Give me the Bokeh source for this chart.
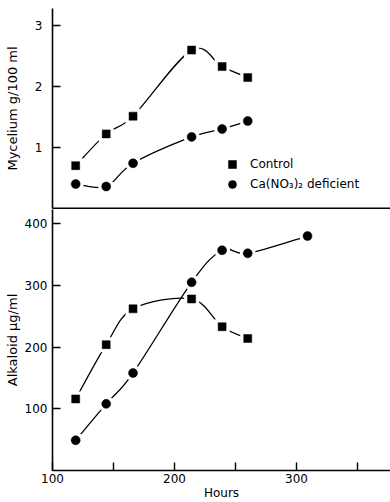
import numpy as np
from bokeh.plotting import figure
from bokeh.models import Range1d, FixedTicker, Legend, LegendItem
from bokeh.layouts import column
from bokeh.embed import file_html
from bokeh.resources import INLINE

# ---- data ----
hours = [119, 144, 166, 214, 239, 260]
hours_alk_def = [119, 144, 166, 214, 239, 260, 309]
myc_control = [0.70, 1.22, 1.51, 2.59, 2.32, 2.14]
myc_deficient = [0.40, 0.36, 0.74, 1.17, 1.30, 1.43]
alk_control = [116, 204, 262, 278, 233, 214]
alk_deficient = [49, 108, 158, 305, 357, 352, 380]

x_ticks = [100, 200, 300]
x_minor_ticks = [150, 250, 350]
myc_ticks = [1, 2, 3]
alk_ticks = [100, 200, 300, 400]

labels = ["Control", "Ca(NO\u2083)\u2082 deficient"]

FONT = "DejaVu Sans"
INK = "black"


def catmull_rom(xs, ys):
    x = np.asarray(xs, float)
    y = np.asarray(ys, float)
    xp = np.concatenate([[x[0]], x, [x[-1]]])
    yp = np.concatenate([[y[0]], y, [y[-1]]])
    return dict(
        x0=x[:-1], y0=y[:-1], x1=x[1:], y1=y[1:],
        cx0=x[:-1] + (xp[2:-1] - xp[:-3]) / 6.0,
        cy0=y[:-1] + (yp[2:-1] - yp[:-3]) / 6.0,
        cx1=x[1:] - (xp[3:] - xp[1:-2]) / 6.0,
        cy1=y[1:] - (yp[3:] - yp[1:-2]) / 6.0,
    )


def style(p):
    p.grid.visible = False
    p.outline_line_color = None
    p.background_fill_color = "white"
    p.border_fill_color = "white"
    for ax in p.axis:
        ax.axis_line_color = INK
        ax.axis_line_width = 1.6
        ax.major_tick_line_color = INK
        ax.major_tick_line_width = 1.4
        ax.minor_tick_line_color = INK
        ax.minor_tick_line_width = 1.4
        ax.major_tick_in = 8
        ax.major_tick_out = 0
        ax.minor_tick_in = 0
        ax.minor_tick_out = 0
        ax.major_label_text_font = FONT
        ax.major_label_text_font_size = "12px"
        ax.major_label_text_color = INK
        ax.axis_label_text_font = FONT
        ax.axis_label_text_font_size = "13px"
        ax.axis_label_text_font_style = "normal"
        ax.axis_label_text_color = INK


def draw_series(p, xs, ys, marker, size):
    p.bezier(**catmull_rom(xs, ys), line_color=INK, line_width=1.3)
    p.scatter(xs, ys, marker=marker, size=size + 7, fill_color="white",
              line_color=None)
    return p.scatter(xs, ys, marker=marker, size=size, fill_color=INK,
                     line_color=INK, line_width=0.5)


x_range = Range1d(100, 377)

# ---- top panel: mycelium ----
p1 = figure(width=390, height=209, x_range=x_range, y_range=Range1d(0, 3.27),
            output_backend="svg", toolbar_location=None,
            min_border_left=52, min_border_right=0, min_border_top=8,
            min_border_bottom=1)
style(p1)
p1.yaxis.ticker = FixedTicker(ticks=myc_ticks)
p1.yaxis.axis_label = "Mycelium g/100 ml"
p1.yaxis.major_label_standoff = 10
p1.yaxis.axis_label_standoff = 12
p1.xaxis.ticker = FixedTicker(ticks=[])
p1.xaxis.axis_line_width = 2
p1.xaxis.major_tick_in = 0
p1.xaxis.major_label_standoff = 0
p1.xaxis.major_label_text_font_size = "0px"

r_c = draw_series(p1, hours, myc_control, "square", 8)
r_d = draw_series(p1, hours, myc_deficient, "circle", 9)

legend = Legend(items=[LegendItem(label=labels[0], renderers=[r_c]),
                       LegendItem(label=labels[1], renderers=[r_d])],
                location=(170, 14), orientation="vertical",
                glyph_width=20, glyph_height=20, label_height=20,
                label_standoff=8, spacing=0, padding=0, margin=0,
                background_fill_alpha=0, border_line_color=None,
                label_text_font=FONT, label_text_font_size="12px",
                label_text_color=INK)
p1.add_layout(legend, "center")

# ---- bottom panel: alkaloid ----
p2 = figure(width=390, height=293, x_range=x_range, y_range=Range1d(0, 423),
            output_backend="svg", toolbar_location=None,
            min_border_left=52, min_border_right=0, min_border_top=0,
            min_border_bottom=0)
style(p2)
p2.yaxis.ticker = FixedTicker(ticks=alk_ticks)
p2.yaxis.axis_label = "Alkaloid \u03bcg/ml"
p2.yaxis.major_label_standoff = 5
p2.yaxis.axis_label_standoff = 2
p2.xaxis.ticker = FixedTicker(ticks=x_ticks, minor_ticks=x_minor_ticks)
p2.xaxis.minor_tick_in = 8
p2.xaxis.axis_label = "Hours"
p2.xaxis.major_label_standoff = 3
p2.xaxis.axis_label_standoff = 0
p2.xaxis.axis_label_text_font_size = "12px"

draw_series(p2, hours, alk_control, "square", 8)
draw_series(p2, hours_alk_def, alk_deficient, "circle", 9)

layout = column(p1, p2, spacing=0)

with open("out.html", "w") as f:
    f.write(file_html(layout, INLINE))
